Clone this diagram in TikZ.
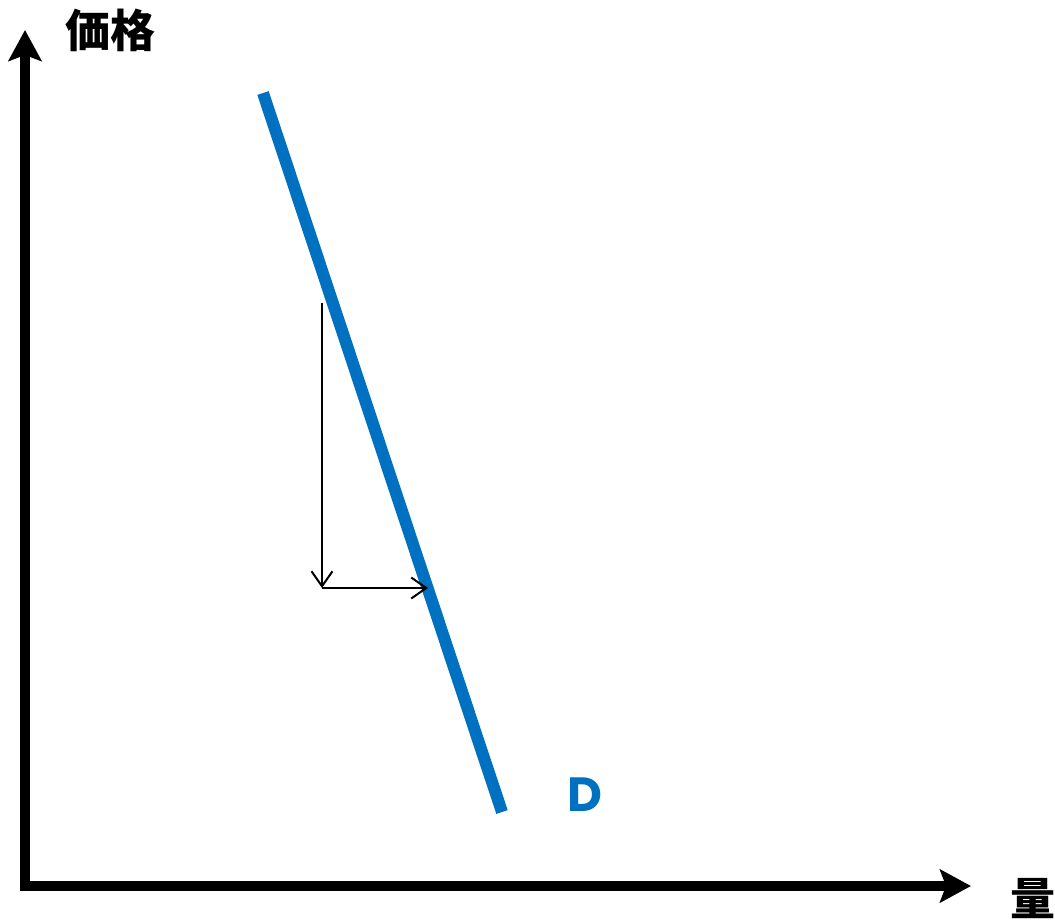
\documentclass[tikz,border=0pt]{standalone}
\usepackage{fontspec}
\usepackage{tikz}
\usetikzlibrary{arrows.meta,positioning}
\newfontfamily\cjk{Noto Sans CJK JP}
\newfontfamily\dfont{Poppins}
\definecolor{demandBlue}{HTML}{0070C0}

\begin{document}
\begin{tikzpicture}[
    x=1pt, y=-1pt,
    axis/.style = {line width=9.5pt, -{Stealth[length=31pt, width=33pt, inset=6pt]}},
    curve/.style = {line width=12pt, color=demandBlue},
    move/.style = {line width=2pt, -{Straight Barb[length=15pt, width=21pt, line width=2pt]}},
    axislabel/.style = {inner sep=0pt, font=\cjk\bfseries\fontsize{45}{45}\selectfont}
]
    \useasboundingbox (0,0) rectangle (1055,922);

    % Axes
    \coordinate (origin) at (25,886);
    \coordinate (ytip) at (25,30);
    \coordinate (xtip) at (971,886);
    \draw [axis] ([yshift=4.75pt]origin) -- (ytip);
    \draw [axis] ([xshift=-4.75pt]origin) -- (xtip);
    \node [axislabel] (price) at (110,30) {価格};
    \node [axislabel] (quantity) at (1033,899) {量};

    % Demand curve
    \coordinate (dtop) at (263,93);
    \coordinate (dbottom) at (502,812);
    \draw [curve] (dtop) -- (dbottom);
    \node [inner sep=0pt, text=demandBlue, font=\dfont\bfseries\fontsize{48}{48}\selectfont] (dlabel) at (585,795) {D};

    % Movement
    \coordinate (start) at (322,303);
    \coordinate (corner) at (322,588);
    \coordinate (hit) at (428,588);
    \draw [move] (start) -- (corner);
    \draw [move] (corner) -- (hit);
\end{tikzpicture}
\end{document}
